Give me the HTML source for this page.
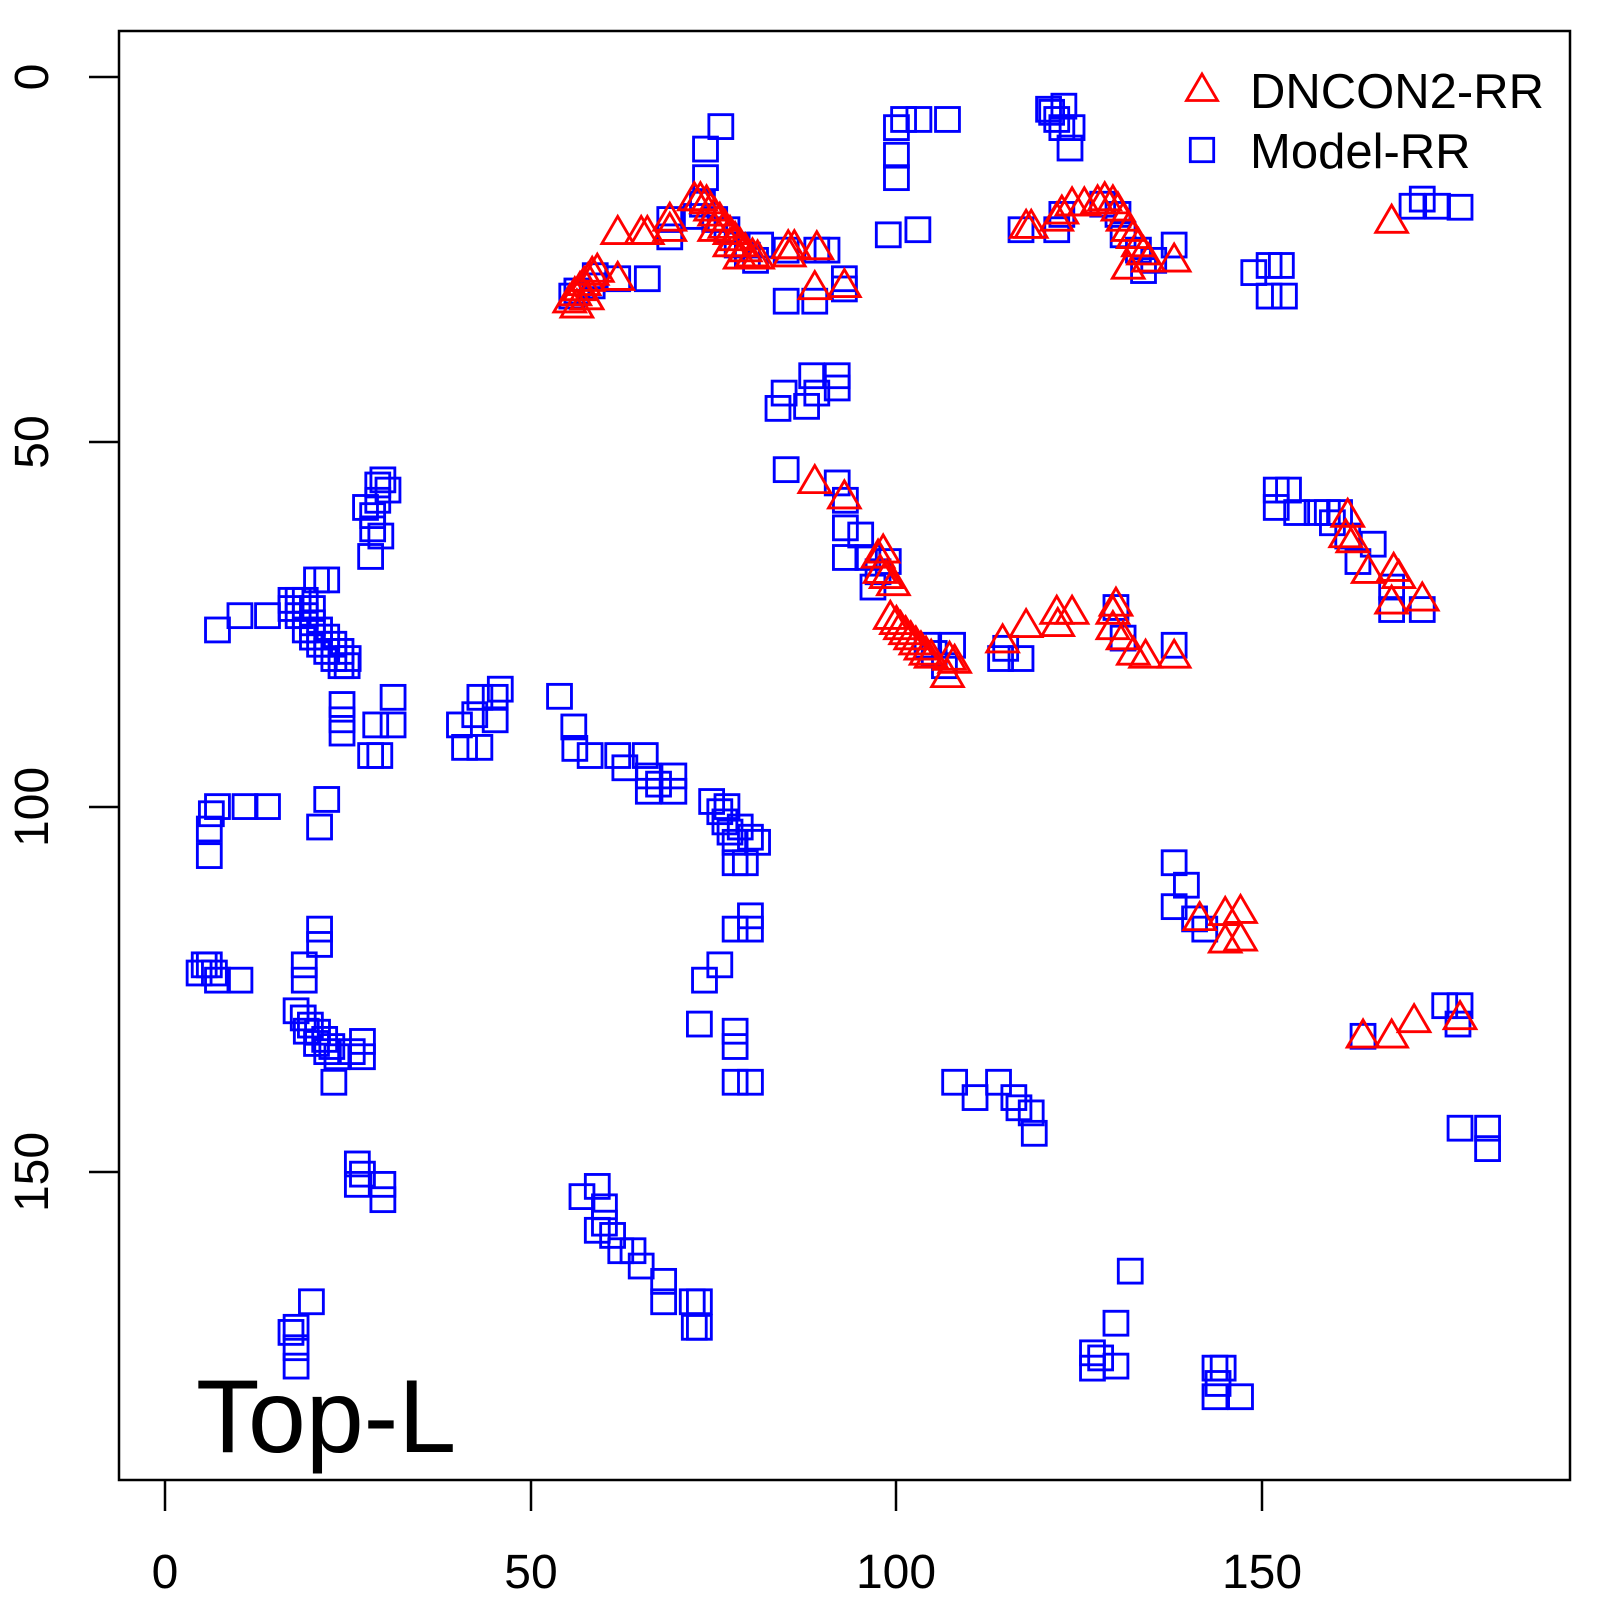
<!DOCTYPE html>
<html><head><meta charset="utf-8"><style>html,body{margin:0;padding:0;background:#fff}svg{display:block}</style></head>
<body>
<svg width="1600" height="1600" viewBox="0 0 1600 1600" xmlns="http://www.w3.org/2000/svg" font-family="Liberation Sans, Arial, sans-serif">
<defs>
<rect id="s" x="-11.7" y="-11.7" width="23.4" height="23.4" fill="none" stroke="#0000ff" stroke-width="2.8"/>
<path id="t" d="M0,-16 L-15.5,10.5 L15.5,10.5 Z" fill="none" stroke="#ff0000" stroke-width="2.8" stroke-linejoin="miter"/>
</defs>
<rect x="119" y="31" width="1451" height="1449" fill="none" stroke="#000" stroke-width="2.5"/>
<g stroke="#000" stroke-width="2.5">
<line x1="165" y1="1480" x2="165" y2="1511"/><line x1="531" y1="1480" x2="531" y2="1511"/><line x1="896" y1="1480" x2="896" y2="1511"/><line x1="1262" y1="1480" x2="1262" y2="1511"/>
<line x1="89" y1="77" x2="119" y2="77"/><line x1="89" y1="442" x2="119" y2="442"/><line x1="89" y1="807" x2="119" y2="807"/><line x1="89" y1="1172" x2="119" y2="1172"/>
</g>
<g font-size="48" text-anchor="middle" fill="#000">
<text x="165" y="1588">0</text><text x="531" y="1588">50</text><text x="896" y="1588">100</text><text x="1262" y="1588">150</text>
<text transform="translate(48,77) rotate(-90)">0</text>
<text transform="translate(48,442) rotate(-90)">50</text>
<text transform="translate(48,807) rotate(-90)">100</text>
<text transform="translate(48,1172) rotate(-90)">150</text>
</g>
<use href="#t" x="1202" y="90"/>
<use href="#s" x="1202" y="150"/>
<text x="1250" y="108" font-size="49">DNCON2-RR</text>
<text x="1250" y="168" font-size="49">Model-RR</text>
<text x="196" y="1452" font-size="104">Top-L</text>
<g transform="scale(1.021)">
<g>
<use href="#s" x="706" y="124"/><use href="#s" x="691" y="146"/><use href="#s" x="691" y="174"/><use href="#s" x="688" y="200"/><use href="#s" x="682" y="212"/><use href="#s" x="700" y="215"/><use href="#s" x="712" y="225"/><use href="#s" x="722" y="240"/><use href="#s" x="732" y="250"/><use href="#s" x="740" y="255"/><use href="#s" x="656" y="215"/><use href="#s" x="656" y="232"/><use href="#s" x="634" y="273"/><use href="#s" x="605" y="273"/><use href="#s" x="583" y="270"/><use href="#s" x="580" y="280"/><use href="#s" x="565" y="285"/><use href="#s" x="560" y="290"/><use href="#s" x="770" y="295"/><use href="#s" x="798" y="295"/><use href="#s" x="800" y="245"/><use href="#s" x="810" y="245"/><use href="#s" x="827" y="273"/><use href="#s" x="827" y="283"/><use href="#s" x="770" y="245"/><use href="#s" x="745" y="240"/>
<use href="#s" x="878" y="125"/><use href="#s" x="885" y="117"/><use href="#s" x="900" y="117"/><use href="#s" x="928" y="117"/><use href="#s" x="878" y="152"/><use href="#s" x="878" y="174"/><use href="#s" x="870" y="230"/><use href="#s" x="899" y="225"/>
<use href="#s" x="1030" y="110"/><use href="#s" x="1035" y="117"/><use href="#s" x="1040" y="125"/><use href="#s" x="1027" y="107"/><use href="#s" x="1042" y="104"/><use href="#s" x="1048" y="145"/><use href="#s" x="1050" y="125"/>
<use href="#s" x="1000" y="225"/><use href="#s" x="1035" y="225"/><use href="#s" x="1040" y="210"/><use href="#s" x="1080" y="200"/><use href="#s" x="1095" y="210"/><use href="#s" x="1100" y="230"/><use href="#s" x="1115" y="245"/><use href="#s" x="1120" y="265"/><use href="#s" x="1150" y="240"/><use href="#s" x="1130" y="255"/>
<use href="#s" x="1228" y="267"/><use href="#s" x="1243" y="260"/><use href="#s" x="1255" y="260"/><use href="#s" x="1258" y="290"/><use href="#s" x="1243" y="290"/>
<use href="#s" x="1393" y="195"/><use href="#s" x="1408" y="202"/><use href="#s" x="1430" y="203"/><use href="#s" x="1383" y="202"/>
<use href="#s" x="795" y="368"/><use href="#s" x="820" y="368"/><use href="#s" x="800" y="385"/><use href="#s" x="768" y="385"/><use href="#s" x="762" y="400"/><use href="#s" x="790" y="398"/><use href="#s" x="820" y="380"/>
<use href="#s" x="770" y="460"/><use href="#s" x="820" y="473"/><use href="#s" x="828" y="490"/><use href="#s" x="828" y="517"/><use href="#s" x="843" y="524"/><use href="#s" x="828" y="546"/><use href="#s" x="850" y="546"/><use href="#s" x="855" y="575"/><use href="#s" x="870" y="550"/><use href="#s" x="860" y="560"/>
<use href="#s" x="908" y="632"/><use href="#s" x="933" y="632"/><use href="#s" x="925" y="652"/><use href="#s" x="985" y="635"/><use href="#s" x="1000" y="645"/><use href="#s" x="1093" y="595"/><use href="#s" x="1100" y="625"/><use href="#s" x="1150" y="632"/><use href="#s" x="980" y="645"/><use href="#s" x="915" y="640"/>
<use href="#s" x="1250" y="480"/><use href="#s" x="1262" y="480"/><use href="#s" x="1250" y="497"/><use href="#s" x="1270" y="502"/><use href="#s" x="1290" y="502"/><use href="#s" x="1300" y="502"/><use href="#s" x="1312" y="502"/><use href="#s" x="1305" y="512"/><use href="#s" x="1320" y="525"/><use href="#s" x="1345" y="533"/><use href="#s" x="1330" y="550"/><use href="#s" x="1363" y="575"/><use href="#s" x="1363" y="597"/><use href="#s" x="1393" y="597"/>
<use href="#s" x="310" y="568"/><use href="#s" x="320" y="568"/><use href="#s" x="363" y="545"/><use href="#s" x="370" y="475"/><use href="#s" x="380" y="480"/><use href="#s" x="370" y="490"/><use href="#s" x="358" y="497"/><use href="#s" x="365" y="518"/><use href="#s" x="373" y="525"/><use href="#s" x="375" y="470"/><use href="#s" x="365" y="505"/>
<use href="#s" x="213" y="617"/><use href="#s" x="235" y="603"/><use href="#s" x="262" y="603"/>
<use href="#s" x="285" y="588"/><use href="#s" x="292" y="588"/><use href="#s" x="299" y="588"/><use href="#s" x="306" y="596"/><use href="#s" x="285" y="596"/><use href="#s" x="292" y="603"/><use href="#s" x="299" y="603"/><use href="#s" x="306" y="610"/><use href="#s" x="299" y="617"/><use href="#s" x="313" y="617"/><use href="#s" x="306" y="624"/><use href="#s" x="320" y="624"/><use href="#s" x="313" y="631"/><use href="#s" x="327" y="631"/><use href="#s" x="320" y="638"/><use href="#s" x="334" y="638"/><use href="#s" x="327" y="645"/><use href="#s" x="334" y="652"/><use href="#s" x="341" y="645"/><use href="#s" x="340" y="652"/>
<use href="#s" x="335" y="690"/><use href="#s" x="335" y="718"/><use href="#s" x="385" y="683"/><use href="#s" x="385" y="710"/><use href="#s" x="368" y="710"/><use href="#s" x="363" y="740"/><use href="#s" x="372" y="740"/><use href="#s" x="335" y="705"/>
<use href="#s" x="455" y="732"/><use href="#s" x="450" y="710"/><use href="#s" x="465" y="700"/><use href="#s" x="470" y="683"/><use href="#s" x="490" y="675"/><use href="#s" x="485" y="705"/><use href="#s" x="470" y="732"/><use href="#s" x="485" y="683"/>
<use href="#s" x="548" y="682"/><use href="#s" x="562" y="712"/><use href="#s" x="563" y="733"/><use href="#s" x="578" y="740"/><use href="#s" x="605" y="740"/><use href="#s" x="612" y="752"/><use href="#s" x="632" y="740"/><use href="#s" x="635" y="760"/><use href="#s" x="660" y="760"/><use href="#s" x="635" y="775"/><use href="#s" x="660" y="775"/><use href="#s" x="645" y="768"/>
<use href="#s" x="697" y="785"/><use href="#s" x="705" y="795"/><use href="#s" x="710" y="805"/><use href="#s" x="715" y="815"/><use href="#s" x="720" y="825"/><use href="#s" x="742" y="825"/><use href="#s" x="730" y="845"/><use href="#s" x="720" y="845"/><use href="#s" x="712" y="790"/><use href="#s" x="725" y="810"/><use href="#s" x="735" y="820"/>
<use href="#s" x="207" y="797"/><use href="#s" x="205" y="812"/><use href="#s" x="205" y="838"/><use href="#s" x="213" y="790"/><use href="#s" x="240" y="790"/><use href="#s" x="262" y="790"/><use href="#s" x="320" y="783"/><use href="#s" x="313" y="810"/>
<use href="#s" x="195" y="953"/><use href="#s" x="205" y="945"/><use href="#s" x="213" y="960"/><use href="#s" x="235" y="960"/><use href="#s" x="200" y="945"/><use href="#s" x="210" y="953"/><use href="#s" x="313" y="910"/><use href="#s" x="313" y="925"/><use href="#s" x="298" y="945"/><use href="#s" x="298" y="960"/>
<use href="#s" x="290" y="990"/><use href="#s" x="297" y="997"/><use href="#s" x="304" y="1004"/><use href="#s" x="311" y="1011"/><use href="#s" x="318" y="1018"/><use href="#s" x="325" y="1025"/><use href="#s" x="330" y="1035"/><use href="#s" x="300" y="1010"/><use href="#s" x="310" y="1022"/><use href="#s" x="320" y="1030"/><use href="#s" x="355" y="1020"/><use href="#s" x="355" y="1035"/><use href="#s" x="345" y="1030"/><use href="#s" x="327" y="1060"/>
<use href="#s" x="735" y="897"/><use href="#s" x="720" y="910"/><use href="#s" x="735" y="910"/><use href="#s" x="705" y="945"/><use href="#s" x="690" y="960"/><use href="#s" x="685" y="1003"/><use href="#s" x="720" y="1010"/><use href="#s" x="720" y="1025"/><use href="#s" x="720" y="1060"/><use href="#s" x="735" y="1060"/>
<use href="#s" x="350" y="1140"/><use href="#s" x="350" y="1160"/><use href="#s" x="355" y="1150"/><use href="#s" x="375" y="1160"/><use href="#s" x="375" y="1175"/>
<use href="#s" x="585" y="1162"/><use href="#s" x="570" y="1172"/><use href="#s" x="592" y="1182"/><use href="#s" x="592" y="1198"/><use href="#s" x="585" y="1205"/><use href="#s" x="600" y="1210"/><use href="#s" x="608" y="1225"/><use href="#s" x="620" y="1225"/><use href="#s" x="628" y="1240"/><use href="#s" x="650" y="1255"/><use href="#s" x="650" y="1275"/><use href="#s" x="678" y="1275"/><use href="#s" x="685" y="1275"/><use href="#s" x="680" y="1300"/><use href="#s" x="685" y="1300"/>
<use href="#s" x="305" y="1275"/><use href="#s" x="290" y="1300"/><use href="#s" x="290" y="1320"/><use href="#s" x="290" y="1338"/><use href="#s" x="285" y="1305"/>
<use href="#s" x="935" y="1060"/><use href="#s" x="955" y="1075"/><use href="#s" x="978" y="1060"/><use href="#s" x="993" y="1075"/><use href="#s" x="998" y="1085"/><use href="#s" x="1010" y="1090"/><use href="#s" x="1013" y="1110"/>
<use href="#s" x="1150" y="845"/><use href="#s" x="1162" y="867"/><use href="#s" x="1150" y="888"/><use href="#s" x="1170" y="900"/><use href="#s" x="1180" y="910"/>
<use href="#s" x="1078" y="1330"/><use href="#s" x="1070" y="1325"/><use href="#s" x="1070" y="1340"/><use href="#s" x="1093" y="1338"/><use href="#s" x="1093" y="1296"/><use href="#s" x="1107" y="1245"/>
<use href="#s" x="1190" y="1340"/><use href="#s" x="1198" y="1340"/><use href="#s" x="1190" y="1368"/><use href="#s" x="1215" y="1368"/><use href="#s" x="1193" y="1355"/>
<use href="#s" x="1335" y="1015"/><use href="#s" x="1415" y="985"/><use href="#s" x="1430" y="985"/><use href="#s" x="1428" y="1003"/><use href="#s" x="1430" y="1105"/><use href="#s" x="1457" y="1105"/><use href="#s" x="1457" y="1125"/>
</g>
<g>
<use href="#t" x="558" y="295"/><use href="#t" x="565" y="300"/><use href="#t" x="563" y="288"/><use href="#t" x="568" y="283"/><use href="#t" x="572" y="278"/><use href="#t" x="576" y="274"/><use href="#t" x="580" y="268"/><use href="#t" x="585" y="265"/><use href="#t" x="575" y="292"/><use href="#t" x="605" y="273"/><use href="#t" x="605" y="228"/><use href="#t" x="628" y="228"/><use href="#t" x="634" y="228"/><use href="#t" x="656" y="225"/><use href="#t" x="656" y="215"/>
<use href="#t" x="680" y="195"/><use href="#t" x="686" y="195"/><use href="#t" x="692" y="198"/><use href="#t" x="696" y="205"/><use href="#t" x="700" y="210"/><use href="#t" x="705" y="215"/><use href="#t" x="710" y="222"/><use href="#t" x="715" y="228"/><use href="#t" x="720" y="234"/><use href="#t" x="725" y="240"/><use href="#t" x="730" y="245"/><use href="#t" x="737" y="250"/><use href="#t" x="742" y="252"/><use href="#t" x="700" y="225"/><use href="#t" x="715" y="240"/><use href="#t" x="725" y="252"/>
<use href="#t" x="772" y="242"/><use href="#t" x="778" y="242"/><use href="#t" x="773" y="250"/><use href="#t" x="800" y="243"/><use href="#t" x="798" y="282"/><use href="#t" x="827" y="280"/>
<use href="#t" x="1005" y="222"/><use href="#t" x="1010" y="222"/><use href="#t" x="1035" y="215"/><use href="#t" x="1040" y="208"/><use href="#t" x="1050" y="200"/><use href="#t" x="1062" y="200"/><use href="#t" x="1075" y="198"/><use href="#t" x="1082" y="195"/><use href="#t" x="1090" y="198"/><use href="#t" x="1095" y="205"/><use href="#t" x="1100" y="215"/><use href="#t" x="1105" y="225"/><use href="#t" x="1110" y="232"/><use href="#t" x="1115" y="240"/><use href="#t" x="1120" y="248"/><use href="#t" x="1125" y="255"/><use href="#t" x="1105" y="262"/><use href="#t" x="1150" y="255"/><use href="#t" x="1363" y="217"/>
<use href="#t" x="798" y="472"/><use href="#t" x="827" y="487"/><use href="#t" x="860" y="545"/><use href="#t" x="865" y="540"/><use href="#t" x="862" y="560"/><use href="#t" x="868" y="565"/><use href="#t" x="875" y="572"/>
<use href="#t" x="872" y="605"/><use href="#t" x="878" y="610"/><use href="#t" x="882" y="615"/><use href="#t" x="887" y="620"/><use href="#t" x="892" y="625"/><use href="#t" x="897" y="630"/><use href="#t" x="902" y="635"/><use href="#t" x="907" y="640"/><use href="#t" x="912" y="643"/><use href="#t" x="930" y="645"/><use href="#t" x="935" y="648"/><use href="#t" x="928" y="662"/>
<use href="#t" x="982" y="628"/><use href="#t" x="1005" y="613"/><use href="#t" x="1035" y="600"/><use href="#t" x="1050" y="600"/><use href="#t" x="1093" y="592"/><use href="#t" x="1090" y="600"/><use href="#t" x="1090" y="615"/><use href="#t" x="1100" y="625"/><use href="#t" x="1110" y="640"/><use href="#t" x="1122" y="643"/><use href="#t" x="1036" y="612"/><use href="#t" x="1150" y="643"/>
<use href="#t" x="1320" y="505"/><use href="#t" x="1318" y="525"/><use href="#t" x="1325" y="530"/><use href="#t" x="1340" y="560"/><use href="#t" x="1365" y="558"/><use href="#t" x="1370" y="565"/><use href="#t" x="1363" y="590"/><use href="#t" x="1393" y="587"/>
<use href="#t" x="1175" y="900"/><use href="#t" x="1200" y="895"/><use href="#t" x="1215" y="893"/><use href="#t" x="1200" y="922"/><use href="#t" x="1215" y="920"/>
<use href="#t" x="1335" y="1015"/><use href="#t" x="1363" y="1015"/><use href="#t" x="1385" y="1000"/><use href="#t" x="1430" y="997"/>
</g>
</g>
</svg>
</body></html>
